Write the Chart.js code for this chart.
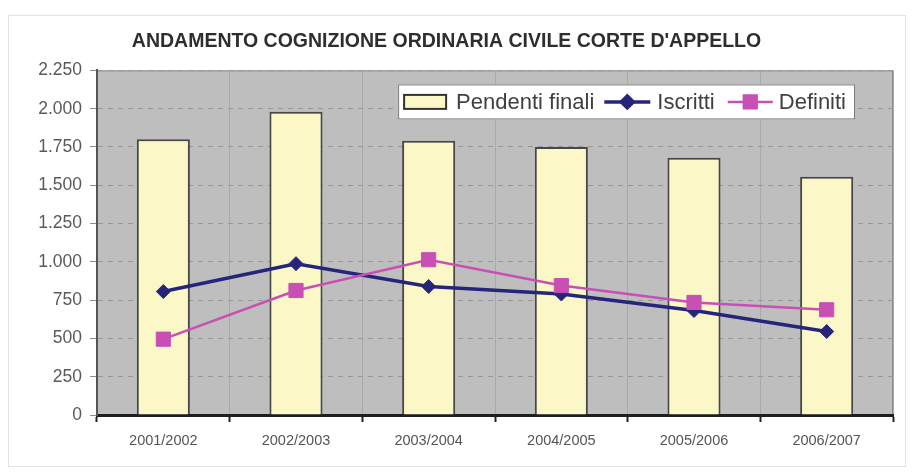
<!DOCTYPE html>
<html>
  <head>
    <title>Andamento cognizione ordinaria civile</title>
    <script src="https://cdn.jsdelivr.net/npm/chart.js@4.4.0/dist/chart.umd.min.js"></script>
    <style>
      body { margin: 0; background: #fff; }
    </style>
  </head>
  <body>
    <canvas id="chart" width="915" height="472"></canvas>

    <script type="text/javascript">

      const categories = ['2001/2002', '2002/2003', '2003/2004', '2004/2005', '2005/2006', '2006/2007'];
      const pendentiFinali = [1800, 1980, 1790, 1750, 1680, 1555];
      const iscritti = [806, 988, 839, 790, 682, 545];
      const definiti = [495, 813, 1014, 845, 735, 687];
      const yMax = 2250;
      const yStep = 250;

      const fontFamily = '"Liberation Sans", Arial, Helvetica, sans-serif';
      const barColor = '#fbf7c6';
      const iscrittiColor = '#25257c';
      const definitiColor = '#c84fb4';

      function itNumber(v) {
        return String(v).replace(/\B(?=(\d{3})+(?!\d))/g, '.');
      }

      // white card with thin frame, grey plot area
      const background = {
        id: 'background',
        beforeDraw(chart) {
          const ctx = chart.ctx;
          const a = chart.chartArea;
          ctx.save();
          ctx.fillStyle = '#fff';
          ctx.fillRect(0, 0, chart.width, chart.height);
          ctx.strokeStyle = '#e2e2e2';
          ctx.lineWidth = 1;
          ctx.strokeRect(8.5, 15.5, 897, 451);
          ctx.fillStyle = '#bebebe';
          ctx.fillRect(a.left, a.top, a.right - a.left, a.bottom - a.top);
          ctx.strokeStyle = '#8a8a8a';
          ctx.beginPath();
          ctx.moveTo(a.left, a.top + 0.5);
          ctx.lineTo(a.right - 0.5, a.top + 0.5);
          ctx.lineTo(a.right - 0.5, a.bottom);
          ctx.stroke();
          ctx.restore();
        }
      };

      // legend box drawn inside the plot, top right
      const boxLegend = {
        id: 'boxLegend',
        afterDraw(chart) {
          const ctx = chart.ctx;
          const a = chart.chartArea;
          const right = a.right - 38;
          const top = a.top + 14;
          const h = 35;
          const ds = chart.data.datasets;
          const items = [ds[0], ds[1], ds[2]];
          const sw = [42, 46, 45];
          const gapBefore = [6, 10, 13];
          const gapAfter = [10, 7, 6];
          ctx.save();
          ctx.font = '22px ' + fontFamily;
          let width = 9;
          items.forEach((d, i) => { width += gapBefore[i] + sw[i] + gapAfter[i] + ctx.measureText(d.label).width; });
          const left = right - width;
          ctx.fillStyle = '#fff';
          ctx.fillRect(left, top, width, h);
          ctx.strokeStyle = '#7a7a7a';
          ctx.lineWidth = 1;
          ctx.strokeRect(left + 0.5, top + 0.5, width - 1, h - 1);
          let x = left;
          const cy = top + h / 2;
          items.forEach((d, i) => {
            x += gapBefore[i];
            if (d.type === 'bar') {
              ctx.fillStyle = d.backgroundColor;
              ctx.fillRect(x, cy - 7, sw[i], 14);
              ctx.strokeStyle = '#333';
              ctx.lineWidth = 2;
              ctx.strokeRect(x, cy - 7, sw[i], 14);
            } else {
              ctx.strokeStyle = d.borderColor;
              ctx.lineWidth = d.borderWidth;
              ctx.beginPath();
              ctx.moveTo(x, cy);
              ctx.lineTo(x + sw[i], cy);
              ctx.stroke();
              Chart.helpers.drawPoint(ctx, {
                pointStyle: d.pointStyle,
                radius: d.pointRadius - 1,
                borderWidth: 1
              }, x + sw[i] / 2, cy);
              ctx.fillStyle = d.backgroundColor;
              ctx.fill();
            }
            x += sw[i] + gapAfter[i];
            ctx.fillStyle = '#404040';
            ctx.textBaseline = 'middle';
            ctx.fillText(d.label, x, cy + 1);
            x += ctx.measureText(d.label).width;
          });
          ctx.restore();
        }
      };

      const ctx = document.getElementById('chart').getContext('2d');

      const myChart = new Chart(ctx, {
        data: {
          labels: categories,
          datasets: [
            {
              type: 'bar',
              label: 'Pendenti finali',
              data: pendentiFinali,
              backgroundColor: barColor,
              borderColor: '#474747',
              borderWidth: 2,
              barPercentage: 0.4,
              categoryPercentage: 1.0,
              order: 2
            },
            {
              type: 'line',
              label: 'Iscritti',
              data: iscritti,
              borderColor: iscrittiColor,
              backgroundColor: iscrittiColor,
              borderWidth: 3.5,
              pointStyle: 'rectRot',
              pointRadius: 7,
              pointBorderWidth: 1,
              tension: 0,
              order: 1
            },
            {
              type: 'line',
              label: 'Definiti',
              data: definiti,
              borderColor: definitiColor,
              backgroundColor: definitiColor,
              borderWidth: 2.5,
              pointStyle: 'rect',
              pointRadius: 10,
              pointBorderWidth: 1,
              tension: 0,
              order: 0
            }
          ]
        },
        options: {
          responsive: false,
          animation: false,
          layout: { padding: { left: 0, right: 22, top: 0, bottom: 0 } },
          plugins: {
            legend: { display: false },
            tooltip: { enabled: false },
            title: {
              display: true,
              text: "ANDAMENTO COGNIZIONE ORDINARIA CIVILE CORTE D'APPELLO",
              color: '#2e2e2e',
              font: { family: fontFamily, size: 19.5, weight: 'bold' },
              padding: { top: 30, bottom: 17 },
              align: 'center'
            }
          },
          scales: {
            x: {
              grid: {
                offset: true,
                color: '#a9a9a9',
                lineWidth: 1,
                drawTicks: true,
                tickLength: 7,
                tickColor: '#222',
                tickWidth: 2
              },
              border: { color: '#1e1e1e', width: 3 },
              ticks: {
                color: '#555',
                font: { family: fontFamily, size: 14.5 },
                padding: 10
              },
              afterFit(scale) { scale.height = 57; }
            },
            y: {
              min: 0,
              max: yMax,
              grid: {
                color: '#979797',
                lineWidth: 1,
                tickLength: 7,
                tickColor: '#8a8a8a',
                tickBorderDash: []
              },
              border: { color: '#555', width: 2, dash: [5, 5] },
              ticks: {
                stepSize: yStep,
                color: '#5a5a5a',
                font: { family: fontFamily, size: 17.5 },
                padding: 8,
                callback: (v) => itNumber(v)
              },
              afterFit(scale) { scale.width = 97; }
            }
          }
        },
        plugins: [background, boxLegend]
      });

    </script>
  </body>
</html>
